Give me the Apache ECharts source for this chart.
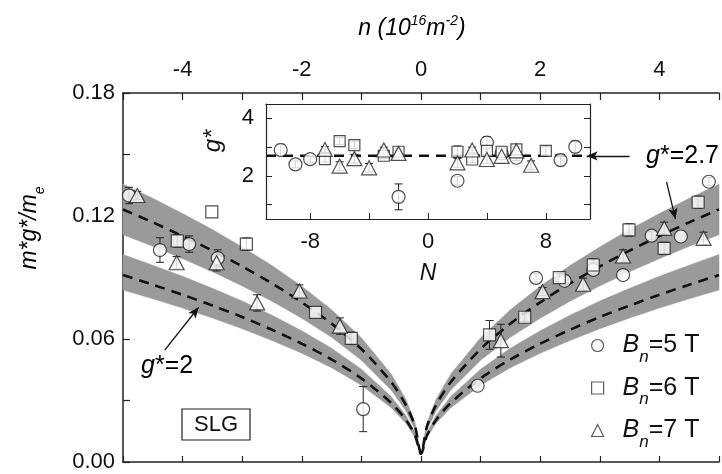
<!DOCTYPE html>
<html><head><meta charset="utf-8">
<script src="https://cdn.jsdelivr.net/npm/echarts@6/dist/echarts.min.js"></script>
<style>html,body{margin:0;padding:0;background:#fff}#c{width:722px;height:474px}</style>
</head><body><div id="c"></div>
<script>
// ---- main panel data: n (10^16 m^-2) vs m*g*/m_e ----
const n5 = [-4.90, -4.38, -3.89, -3.41, -0.97, 0.95, 1.93, 2.41, 2.89, 3.39, 3.87, 4.36, 4.83];
const v5 = [0.130, 0.1034, 0.1063, 0.0995, 0.0258, 0.0372, 0.0898, 0.0884, 0.0937, 0.0912, 0.1104, 0.110, 0.1367];
const e5 = [0.004, 0.006, 0.004, 0.004, 0.011, 0, 0.002, 0.002, 0.002, 0, 0.002, 0, 0.002];

const n6 = [-4.09, -3.51, -2.93, -1.77, -1.17, 1.15, 1.74, 2.32, 2.89, 3.49, 4.08, 4.65];
const v6 = [0.1078, 0.122, 0.1063, 0.073, 0.0603, 0.062, 0.0706, 0.0899, 0.0961, 0.1132, 0.1042, 0.1267];
const e6 = [0.003, 0, 0.003, 0, 0.003, 0.007, 0.002, 0.002, 0.003, 0.003, 0.003, 0.003];

const n7 = [-4.76, -4.10, -3.43, -2.75, -2.04, -1.36, 1.34, 2.04, 2.72, 3.39, 4.08, 4.74];
const v7 = [0.130, 0.0972, 0.0972, 0.0776, 0.0834, 0.0663, 0.0592, 0.0831, 0.0867, 0.1005, 0.114, 0.1091];
const e7 = [0.002, 0.003, 0.004, 0.004, 0.003, 0.004, 0.008, 0.002, 0.003, 0.003, 0.003, 0.003];

// curves (g*=2.7 and g*=2) with shaded bands
const nCurve = [-5, -4.5, -4, -3.5, -3, -2.5, -2, -1.5, -1, -0.5, -0.25, -0.1, 0, 0.1, 0.25, 0.5, 1, 1.5, 2, 2.5, 3, 3.5, 4, 4.5, 5];
const g27 = [0.1232, 0.1169, 0.1102, 0.1031, 0.0954, 0.0871, 0.0779, 0.0675, 0.0551, 0.0390, 0.0276, 0.0174, 0.004, 0.0174, 0.0276, 0.0390, 0.0551, 0.0675, 0.0779, 0.0871, 0.0954, 0.1031, 0.1102, 0.1169, 0.1232];
const g27hi = [0.1355, 0.1286, 0.1212, 0.1134, 0.1049, 0.0958, 0.0857, 0.0743, 0.0606, 0.0429, 0.0304, 0.0191, 0.004, 0.0191, 0.0304, 0.0429, 0.0606, 0.0743, 0.0857, 0.0958, 0.1049, 0.1134, 0.1212, 0.1286, 0.1355];
const g27lo = [0.1109, 0.1052, 0.0992, 0.0928, 0.0859, 0.0784, 0.0701, 0.0608, 0.0496, 0.0351, 0.0248, 0.0157, 0.004, 0.0157, 0.0248, 0.0351, 0.0496, 0.0608, 0.0701, 0.0784, 0.0859, 0.0928, 0.0992, 0.1052, 0.1109];
const g2 = [0.0912, 0.0865, 0.0816, 0.0763, 0.0707, 0.0645, 0.0577, 0.0500, 0.0408, 0.0288, 0.0204, 0.0129, 0.004, 0.0129, 0.0204, 0.0288, 0.0408, 0.0500, 0.0577, 0.0645, 0.0707, 0.0763, 0.0816, 0.0865, 0.0912];
const g2hi = [0.1012, 0.0960, 0.0906, 0.0847, 0.0785, 0.0716, 0.0640, 0.0555, 0.0453, 0.0320, 0.0226, 0.0143, 0.004, 0.0143, 0.0226, 0.0320, 0.0453, 0.0555, 0.0640, 0.0716, 0.0785, 0.0847, 0.0906, 0.0960, 0.1012];
const g2lo = [0.0839, 0.0796, 0.0751, 0.0702, 0.0650, 0.0593, 0.0531, 0.0460, 0.0375, 0.0265, 0.0188, 0.0119, 0.004, 0.0119, 0.0188, 0.0265, 0.0375, 0.0460, 0.0531, 0.0593, 0.0650, 0.0702, 0.0751, 0.0796, 0.0839];

// ---- inset data: N vs g* ----
const N5 = [-10, -9, -8, -2, 2, 4, 5, 6, 9, 10];
const G5 = [2.9, 2.4, 2.58, 1.27, 1.83, 3.16, 2.78, 2.63, 2.55, 3.01];
const GE5 = [0.2, 0.12, 0.1, 0.45, 0.15, 0.2, 0.15, 0.1, 0.2, 0.2];
const N6 = [-7, -6, -5, -3, -2, 2, 3, 4, 5, 6, 8];
const G6 = [2.58, 3.21, 3.07, 2.70, 2.84, 2.84, 2.57, 2.87, 2.84, 2.92, 2.87];
const GE6 = [0.1, 0.12, 0.12, 0.1, 0.1, 0.2, 0.1, 0.15, 0.1, 0.1, 0.15];
const N7 = [-7, -6, -5, -4, -3, -2, 2, 3, 4, 5, 6, 7];
const G7 = [2.92, 2.34, 2.6, 2.28, 2.9, 2.78, 2.45, 2.9, 2.57, 2.68, 2.87, 2.37];
const GE7 = [0.1, 0.15, 0.15, 0.15, 0.1, 0.1, 0.15, 0.1, 0.15, 0.1, 0.1, 0.15];
const gStar = 2.7;

// tick labels
const topTicks = [-4, -2, 0, 2, 4];
const leftTicks = ['0.00', '0.06', '0.12', '0.18'];
const insetXLabels = [-8, 0, 8];
const insetYLabels = [2, 4];

const FONT = '"Liberation Sans", Arial, Helvetica, sans-serif';
const INK = '#111';
const BAND = '#9a9a9a';

const zip = (a, b) => a.map((x, i) => [x, b[i]]);
const zip3 = (a, b, c) => a.map((x, i) => [x, b[i], c[i]]);

function errRender(params, api) {
  const e = api.value(2);
  if (!e) return null;
  const x = api.value(0), y = api.value(1);
  const p1 = api.coord([x, y - e]);
  const p2 = api.coord([x, y + e]);
  const w = 4;
  const st = { stroke: '#222', lineWidth: 1 };
  return { type: 'group', children: [
    { type: 'line', shape: { x1: p1[0], y1: p1[1], x2: p2[0], y2: p2[1] }, style: st },
    { type: 'line', shape: { x1: p1[0] - w, y1: p1[1], x2: p1[0] + w, y2: p1[1] }, style: st },
    { type: 'line', shape: { x1: p2[0] - w, y1: p2[1], x2: p2[0] + w, y2: p2[1] }, style: st }
  ]};
}

function bandSeries(lo, hi) {
  const data = zip3(nCurve, lo, hi);
  return {
    type: 'custom', xAxisIndex: 0, yAxisIndex: 0, z: 1, silent: true, data: data,
    renderItem: (params, api) => {
      if (params.dataIndex !== 0) return null;
      const pts = [];
      for (let i = 0; i < data.length; i++) pts.push(api.coord([data[i][0], data[i][2]]));
      for (let i = data.length - 1; i >= 0; i--) pts.push(api.coord([data[i][0], data[i][1]]));
      return { type: 'polygon', shape: { points: pts }, style: { fill: BAND, stroke: BAND, lineWidth: 0.5 } };
    }
  };
}

const mk = { color: '#fff', borderColor: '#222', borderWidth: 1.2 };

function errSeries(xi, yi, data) {
  return { type: 'custom', xAxisIndex: xi, yAxisIndex: yi, renderItem: errRender, data: data, z: 3, silent: true };
}

const axisLineStyle = { color: '#222', width: 1.5 };

const legendRich = {
  b: { fontFamily: FONT, fontSize: 25, fontStyle: 'italic', color: INK, lineHeight: 40, padding: [0, 0, 0, 14] },
  s: { fontFamily: FONT, fontSize: 17, fontStyle: 'italic', color: INK, lineHeight: 16, verticalAlign: 'bottom' },
  t: { fontFamily: FONT, fontSize: 25, color: INK, lineHeight: 40 }
};

const option = {
  animation: false,
  backgroundColor: '#fff',
  grid: [
    { left: 123, top: 93, width: 608, height: 369 },
    { left: 266, top: 104, width: 324, height: 115, show: true, backgroundColor: '#fff', borderWidth: 0 }
  ],
  xAxis: [
    { type: 'value', gridIndex: 0, position: 'bottom', min: -5, max: 5, interval: 1,
      axisLine: { onZero: false, lineStyle: axisLineStyle }, axisTick: { inside: true, length: 6, lineStyle: { color: '#222', width: 1.2 } },
      axisLabel: { show: false }, splitLine: { show: false } },
    { type: 'value', gridIndex: 0, position: 'top', min: -5, max: 5, interval: 1,
      axisLine: { onZero: false, lineStyle: axisLineStyle }, axisTick: { inside: true, length: 7, lineStyle: { color: '#222', width: 1.2 } },
      axisLabel: { margin: 12, fontFamily: FONT, fontSize: 22, color: INK,
        formatter: v => topTicks.indexOf(Math.round(v)) >= 0 && Math.abs(v - Math.round(v)) < 1e-6 ? String(Math.round(v)) : '' },
      splitLine: { show: false } },
    { type: 'value', gridIndex: 1, position: 'bottom', min: -11, max: 11, z: 10,
      axisLine: { onZero: false, lineStyle: { color: '#222', width: 1.2 } },
      axisTick: { inside: true, length: 6, customValues: [-8, -4, 0, 4, 8], lineStyle: { color: '#222' } },
      axisLabel: { margin: 12, fontFamily: FONT, fontSize: 22, color: INK, customValues: insetXLabels },
      name: 'N', nameLocation: 'middle', nameGap: 43,
      nameTextStyle: { fontFamily: FONT, fontSize: 23, fontStyle: 'italic', color: INK },
      splitLine: { show: false } },
    { type: 'value', gridIndex: 1, position: 'top', min: -11, max: 11, z: 10,
      axisLine: { onZero: false, lineStyle: { color: '#222', width: 1.2 } }, axisTick: { show: false }, axisLabel: { show: false },
      splitLine: { show: false } }
  ],
  yAxis: [
    { type: 'value', gridIndex: 0, position: 'left', min: 0, max: 0.18, interval: 0.03,
      axisLine: { show: true, onZero: false, lineStyle: axisLineStyle }, axisTick: { show: true, inside: true, length: 7, lineStyle: { color: '#222', width: 1.2 } },
      axisLabel: { margin: 8, fontFamily: FONT, fontSize: 22, color: INK,
        formatter: v => { const s = v.toFixed(2); return leftTicks.indexOf(s) >= 0 ? s : ''; } },
      splitLine: { show: false } },
    { type: 'value', gridIndex: 1, position: 'left', min: 0.5, max: 4.5, z: 10,
      axisLine: { show: true, onZero: false, lineStyle: { color: '#222', width: 1.2 } },
      axisTick: { show: true, inside: true, length: 6, customValues: [1, 2, 3, 4], lineStyle: { color: '#222' } },
      axisLabel: { margin: 12, fontFamily: FONT, fontSize: 22, color: INK, customValues: insetYLabels },
      splitLine: { show: false } },
    { type: 'value', gridIndex: 1, position: 'right', min: 0.5, max: 4.5, z: 10,
      axisLine: { show: true, onZero: false, lineStyle: { color: '#222', width: 1.2 } },
      axisTick: { show: true, inside: true, length: 6, customValues: [1, 2, 3, 4], lineStyle: { color: '#222' } },
      axisLabel: { show: false }, splitLine: { show: false } }
  ],
  legend: {
    orient: 'vertical', left: 586, top: 328, itemGap: 10, itemWidth: 12, itemHeight: 12,
    itemStyle: { color: '#fff', borderColor: '#333', borderWidth: 1.2 },
    data: [
      { name: 'B5', icon: 'circle', itemStyle: { color: '#fff', borderColor: '#333', borderWidth: 1.2 } },
      { name: 'B6', icon: 'rect', itemStyle: { color: '#fff', borderColor: '#333', borderWidth: 1.2 } },
      { name: 'B7', icon: 'triangle', itemStyle: { color: '#fff', borderColor: '#333', borderWidth: 1.2 } }
    ],
    formatter: name => '{b|B}{s|n}{t|=' + name.slice(1) + ' T}',
    textStyle: { rich: legendRich, color: INK },
    selectedMode: false
  },
  series: [
    bandSeries(g27lo, g27hi),
    bandSeries(g2lo, g2hi),
    // dashed curves
    { type: 'line', xAxisIndex: 0, yAxisIndex: 0, data: zip(nCurve, g27), symbol: 'none', smooth: 0.3,
      lineStyle: { color: '#111', width: 2.6, type: [10, 7] }, z: 2, silent: true,
      markLine: { silent: true, symbol: ['none', 'arrow'], symbolSize: [7, 11], label: { show: false },
        lineStyle: { color: '#111', width: 1.3, type: 'solid' },
        data: [
          [{ coord: [4.12, 0.1366] }, { coord: [4.27, 0.1185] }],
          [{ coord: [3.5, 0.1493] }, { coord: [2.78, 0.1493] }]
        ] } },
    { type: 'line', xAxisIndex: 0, yAxisIndex: 0, data: zip(nCurve, g2), symbol: 'none', smooth: 0.3,
      lineStyle: { color: '#111', width: 2.6, type: [10, 7] }, z: 2, silent: true,
      markLine: { silent: true, symbol: ['none', 'arrow'], symbolSize: [7, 11], label: { show: false },
        lineStyle: { color: '#111', width: 1.3, type: 'solid' },
        data: [ [{ coord: [-4.30, 0.0546] }, { coord: [-3.73, 0.0755] }] ] } },
    // error bars main
    errSeries(0, 0, zip3(n5, v5, e5)),
    errSeries(0, 0, zip3(n6, v6, e6)),
    errSeries(0, 0, zip3(n7, v7, e7)),
    // markers main
    { name: 'B5', type: 'scatter', xAxisIndex: 0, yAxisIndex: 0, data: zip(n5, v5), symbol: 'circle', symbolSize: 13, itemStyle: mk, z: 4 },
    { name: 'B6', type: 'scatter', xAxisIndex: 0, yAxisIndex: 0, data: zip(n6, v6), symbol: 'rect', symbolSize: 12, itemStyle: mk, z: 4 },
    { name: 'B7', type: 'scatter', xAxisIndex: 0, yAxisIndex: 0, data: zip(n7, v7), symbol: 'triangle', symbolSize: [15, 14], itemStyle: mk, z: 4 },
    // inset dashed line
    { type: 'line', xAxisIndex: 2, yAxisIndex: 1, data: [[-11, gStar], [11, gStar]], symbol: 'none',
      lineStyle: { color: '#111', width: 2.6, type: [10, 7] }, z: 6, silent: true },
    errSeries(2, 1, zip3(N5, G5, GE5)),
    errSeries(2, 1, zip3(N6, G6, GE6)),
    errSeries(2, 1, zip3(N7, G7, GE7)),
    { type: 'scatter', xAxisIndex: 2, yAxisIndex: 1, data: zip(N5, G5), symbol: 'circle', symbolSize: 13, itemStyle: mk, z: 8 },
    { type: 'scatter', xAxisIndex: 2, yAxisIndex: 1, data: zip(N6, G6), symbol: 'rect', symbolSize: 11, itemStyle: mk, z: 8 },
    { type: 'scatter', xAxisIndex: 2, yAxisIndex: 1, data: zip(N7, G7), symbol: 'triangle', symbolSize: [15, 14], itemStyle: mk, z: 8 }
  ],
  graphic: [
    { type: 'text', x: 412, y: 29, z: 20,
      style: { text: '{i|n (10}{u|16}{i|m}{u|-2}{i|)}', align: 'center', verticalAlign: 'middle', rich: {
        i: { fontFamily: FONT, fontSize: 23, fontStyle: 'italic', color: INK, lineHeight: 30 },
        u: { fontFamily: FONT, fontSize: 14, fontStyle: 'italic', color: INK, lineHeight: 14, verticalAlign: 'top' } } } },
    { type: 'text', x: 30, y: 228, rotation: Math.PI / 2, z: 20,
      style: { text: '{i|m*g*/m}{s|e}', align: 'center', verticalAlign: 'middle', rich: {
        i: { fontFamily: FONT, fontSize: 23, fontStyle: 'italic', color: INK, lineHeight: 34 },
        s: { fontFamily: FONT, fontSize: 14, fontStyle: 'italic', color: INK, lineHeight: 14, verticalAlign: 'bottom' } } } },
    { type: 'text', x: 213, y: 141, rotation: Math.PI / 2, z: 20,
      style: { text: 'g*', align: 'center', verticalAlign: 'middle', fontFamily: FONT, fontSize: 24, fontStyle: 'italic', fill: INK } },
    { type: 'text', x: 646, y: 156, z: 20,
      style: { text: '{g|g}{t|*=2.7}', verticalAlign: 'middle', rich: {
        g: { fontFamily: FONT, fontSize: 25, fontStyle: 'italic', color: INK },
        t: { fontFamily: FONT, fontSize: 25, color: INK } } } },
    { type: 'text', x: 141, y: 366, z: 20,
      style: { text: '{g|g}{t|*=2}', verticalAlign: 'middle', rich: {
        g: { fontFamily: FONT, fontSize: 25, fontStyle: 'italic', color: INK },
        t: { fontFamily: FONT, fontSize: 25, color: INK } } } },
    { type: 'rect', shape: { x: 182, y: 409, width: 68, height: 31 }, z: 20,
      style: { fill: '#fff', stroke: '#222', lineWidth: 1.2 } },
    { type: 'text', x: 216, y: 425, z: 21,
      style: { text: 'SLG', align: 'center', verticalAlign: 'middle', fontFamily: FONT, fontSize: 22, fill: INK } }
  ]
};

const chart = echarts.init(document.getElementById('c'), null, { renderer: 'canvas' });
chart.setOption(option);
</script>
</body></html>
